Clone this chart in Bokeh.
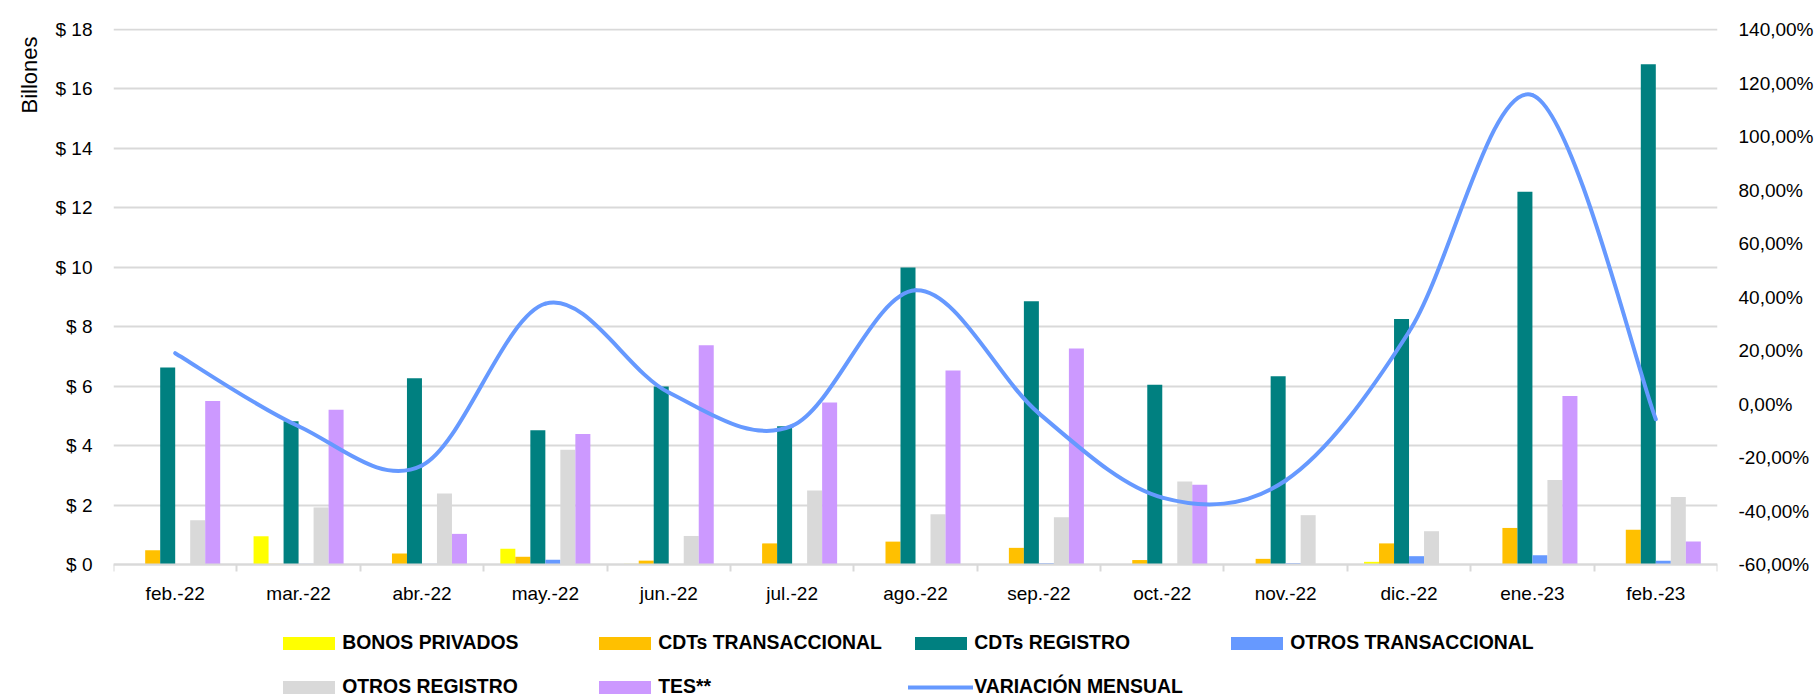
import numpy as np
from bokeh.plotting import figure
from bokeh.models import (Range1d, LinearAxis, FixedTicker, ColumnDataSource,
                          Legend, LegendItem, Title)
from bokeh.transform import dodge
from bokeh.embed import file_html
from bokeh.resources import INLINE

# ---------------- data ----------------
categories = ["feb.-22", "mar.-22", "abr.-22", "may.-22", "jun.-22", "jul.-22",
              "ago.-22", "sep.-22", "oct.-22", "nov.-22", "dic.-22", "ene.-23", "feb.-23"]

bonos_privados = [0, 0.95, 0, 0.53, 0.02, 0, 0, 0, 0, 0, 0.09, 0, 0]
cdts_transaccional = [0.48, 0.02, 0.37, 0.26, 0.13, 0.71, 0.77, 0.56, 0.15, 0.19, 0.71, 1.23, 1.17]
cdts_registro = [6.63, 4.82, 6.27, 4.52, 5.99, 4.65, 9.99, 8.86, 6.05, 6.33, 8.26, 12.54, 16.83]
otros_transaccional = [0, 0.02, 0.02, 0.16, 0, 0, 0, 0.04, 0, 0.04, 0.28, 0.31, 0.13]
otros_registro = [1.49, 1.92, 2.39, 3.86, 0.96, 2.49, 1.69, 1.59, 2.79, 1.66, 1.12, 2.84, 2.27]
tes = [5.50, 5.21, 1.03, 4.39, 7.38, 5.45, 6.53, 7.27, 2.68, 0, 0, 5.67, 0.77]

variacion_mensual = [19.0, -8.3, -23.0, 37.5, 4.3, -8.2, 42.5, -3.5, -35.0, -28.6, 27.0, 115.5, -5.7]

left_ticks = [0, 2, 4, 6, 8, 10, 12, 14, 16, 18]
left_labels = ["$ 0", "$ 2", "$ 4", "$ 6", "$ 8", "$ 10", "$ 12", "$ 14", "$ 16", "$ 18"]
right_ticks = [-60, -40, -20, 0, 20, 40, 60, 80, 100, 120, 140]
right_labels = ["-60,00%", "-40,00%", "-20,00%", "0,00%", "20,00%", "40,00%",
                "60,00%", "80,00%", "100,00%", "120,00%", "140,00%"]

series_names = ["BONOS PRIVADOS", "CDTs TRANSACCIONAL", "CDTs REGISTRO",
                "OTROS TRANSACCIONAL", "OTROS REGISTRO", "TES**"]
series_cols = ["bonos", "cdt_t", "cdt_r", "otros_t", "otros_r", "tes"]
series_colors = ["#FFFF00", "#FFC000", "#008080", "#6699FF", "#D9D9D9", "#CC99FF"]
line_name = "VARIACIÓN MENSUAL"
line_color = "#6699FF"

FONT = "Liberation Sans"
TXT = "#000000"
GRID = "#D9D9D9"

n = len(categories)
xc = [i + 0.5 for i in range(n)]

source = ColumnDataSource(dict(
    x=xc, bonos=bonos_privados, cdt_t=cdts_transaccional, cdt_r=cdts_registro,
    otros_t=otros_transaccional, otros_r=otros_registro, tes=tes))

# ---------------- geometry ----------------
W, H = 1816, 698
border_top = 28
px_per_unit = 535 / 18.0          # pixels per 1 "billón" on the left axis
y_end = 18 + 1.0 / px_per_unit    # small headroom so the top gridline shows fully
frame_h = H - border_top          # frame reaches the bottom; x axis sits at y = 0
y_start = y_end - frame_h / px_per_unit
pct_per_unit = 200 / 18.0         # right axis: -60..140 spans the same as 0..18


def to_pct(v):
    return -60 + v * pct_per_unit


p = figure(width=W, height=H, x_range=Range1d(0, n), y_range=Range1d(y_start, y_end),
           output_backend="svg", toolbar_location=None,
           min_border_left=113, min_border_right=99, min_border_top=border_top,
           min_border_bottom=0,
           outline_line_color=None, background_fill_color="white", border_fill_color="white")
p.extra_y_ranges = {"pct": Range1d(to_pct(y_start), to_pct(y_end))}

# bars
bw = 0.1216
renderers = []
for k, (col, color) in enumerate(zip(series_cols, series_colors)):
    r = p.vbar(x=dodge("x", (k - 2.5) * bw), top=col, width=bw, source=source,
               fill_color=color, line_color=None)
    renderers.append(r)

# smoothed line (Catmull-Rom style bezier through the data points)
xs = np.array(xc, dtype=float)
ys = np.array(variacion_mensual, dtype=float)
xpad = np.concatenate([[xs[0]], xs, [xs[-1]]])
ypad = np.concatenate([[ys[0]], ys, [ys[-1]]])
i = np.arange(n - 1)
cx0 = xpad[i + 1] + (xpad[i + 2] - xpad[i]) / 6.0
cy0 = ypad[i + 1] + (ypad[i + 2] - ypad[i]) / 6.0
cx1 = xpad[i + 2] - (xpad[i + 3] - xpad[i + 1]) / 6.0
cy1 = ypad[i + 2] - (ypad[i + 3] - ypad[i + 1]) / 6.0
r_line = p.bezier(x0=xs[:-1], y0=ys[:-1], x1=xs[1:], y1=ys[1:],
                  cx0=cx0, cy0=cy0, cx1=cx1, cy1=cy1,
                  line_color=line_color, line_width=4, line_cap="round",
                  y_range_name="pct")

# x axis, pinned at y = 0
xa = p.xaxis[0]
xa.fixed_location = 0
xa.ticker = FixedTicker(ticks=xc, minor_ticks=list(range(n + 1)))
xa.major_label_overrides = {x: c for x, c in zip(xc, categories)}
xa.major_tick_line_color = None
xa.major_tick_out = 0
xa.major_tick_in = 0
xa.minor_tick_line_color = GRID
xa.minor_tick_line_width = 2
xa.minor_tick_out = 7
xa.minor_tick_in = 0
xa.axis_line_color = GRID
xa.axis_line_width = 2
xa.major_label_standoff = 11
xa.major_label_text_font = FONT
xa.major_label_text_font_size = "19px"
xa.major_label_text_color = TXT

ya = p.yaxis[0]
ya.ticker = FixedTicker(ticks=left_ticks)
ya.major_label_overrides = dict(zip(left_ticks, left_labels))
ya.axis_line_color = None
ya.major_tick_line_color = None
ya.minor_tick_line_color = None
ya.major_tick_out = 0
ya.major_tick_in = 0
ya.major_label_standoff = 21
ya.major_label_text_font = FONT
ya.major_label_text_font_size = "19px"
ya.major_label_text_color = TXT

ra = LinearAxis(y_range_name="pct", ticker=FixedTicker(ticks=right_ticks),
                major_label_overrides=dict(zip(right_ticks, right_labels)))
ra.axis_line_color = None
ra.major_tick_line_color = None
ra.minor_tick_line_color = None
ra.major_tick_out = 0
ra.major_tick_in = 0
ra.major_label_standoff = 21
ra.major_label_text_font = FONT
ra.major_label_text_font_size = "19px"
ra.major_label_text_color = TXT
p.add_layout(ra, "right")

p.xgrid.grid_line_color = None
p.ygrid.ticker = FixedTicker(ticks=left_ticks)
p.ygrid.grid_line_color = GRID
p.ygrid.grid_line_width = 2

# axis title, top-aligned on the left
p.add_layout(Title(text="Billones", align="right", offset=8, standoff=21,
                   text_font=FONT, text_font_size="22px", text_font_style="normal",
                   text_color=TXT), "left")

# legend (inside the frame, below the x axis)
items = [LegendItem(label=nm, renderers=[r]) for nm, r in zip(series_names, renderers)]
items.append(LegendItem(label=line_name, renderers=[r_line]))
legend = Legend(items=items, location=(163.2, 0), orientation="horizontal", ncols=4,
                glyph_width=65, glyph_height=16, label_standoff=1, label_width=229,
                spacing=21, padding=0, margin=0, border_line_color=None,
                background_fill_alpha=0,
                label_text_font=FONT, label_text_font_style="bold",
                label_text_font_size="19.4px", label_text_color=TXT)
p.add_layout(legend)

open("out.html", "w").write(file_html(p, INLINE))
